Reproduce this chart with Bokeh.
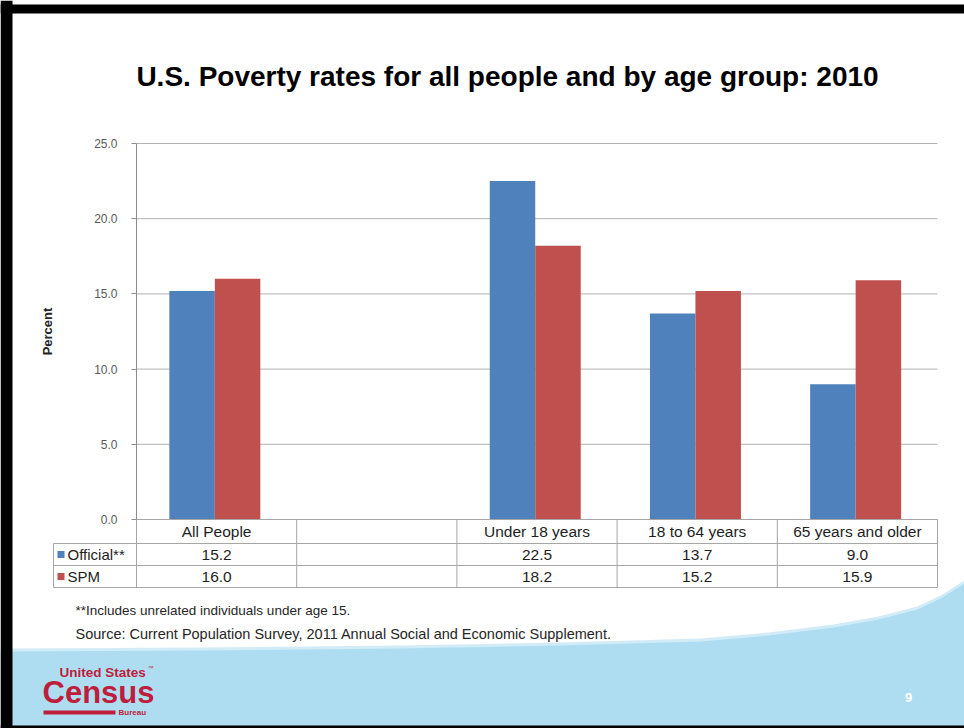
import numpy as np
from bokeh.plotting import figure
from bokeh.models import (ColumnDataSource, Range1d, FixedTicker, LinearAxis,
                          NumeralTickFormatter, Label)
from bokeh.transform import dodge
from bokeh.embed import file_html
from bokeh.resources import INLINE

# ---------------- data ----------------
categories = ["All People", "", "Under 18 years", "18 to 64 years", "65 years and older"]
official = [15.2, None, 22.5, 13.7, 9.0]
spm = [16.0, None, 18.2, 15.2, 15.9]
series_names = ["Official**", "SPM"]
y_ticks = [0, 5, 10, 15, 20, 25]
title_text = "U.S. Poverty rates for all people and by age group: 2010"
y_label = "Percent"
footnotes = ["**Includes unrelated individuals under age 15.",
             "Source: Current  Population Survey, 2011 Annual Social and Economic Supplement."]
page_number = "9"

# ---------------- layout constants (page px) ----------------
W, H = 964, 728
PL, PR, PT, PB = 136, 937, 143, 519          # plot area edges
BLUE, RED = "#4F81BD", "#C0504D"
GRID = "#B3B3B3"
TABLE = "#A6A6A6"
TXT = "#1E1E1E"
FONT = "Liberation Sans"
NCAT = len(categories)
YMAX = y_ticks[-1]


def dx(px):
    return (px - PL) / (PR - PL) * NCAT


def dy(py):
    return (PB - py) / (PB - PT) * YMAX


def to_float(vals):
    return np.array([np.nan if v is None else v for v in vals], dtype=float)


p = figure(width=W, height=H, x_range=Range1d(dx(0), dx(W)), y_range=Range1d(dy(H), dy(0)),
           x_axis_type=None, y_axis_type=None, output_backend="svg", toolbar_location=None,
           min_border=0)
p.outline_line_color = None
p.background_fill_color = "white"
p.border_fill_color = "white"
p.grid.visible = False

# ---------------- background decorations ----------------
curve = [(0, 651), (200, 650), (400, 648), (560, 645), (700, 641), (768, 635),
         (833, 627), (878, 619), (917, 609), (942, 597), (964, 583)]
glow = [(x, y - 3) for x, y in curve]
for pts, col in [(glow, "#D2ECF7"), (curve, "#AEDDF1")]:
    p.patch(x=[dx(x) for x, _ in pts] + [dx(W), dx(0)],
            y=[dy(y) for _, y in pts] + [dy(H), dy(H)],
            fill_color=col, line_color=None)
# black slide frame
p.quad(left=[dx(0), dx(0), dx(0)], right=[dx(W), dx(12), dx(W)],
       top=[dy(4), dy(0), dy(725)], bottom=[dy(13), dy(H), dy(H)],
       fill_color="black", line_color=None)

# ---------------- grid ----------------
p.segment(x0=0, x1=NCAT, y0=y_ticks, y1=y_ticks, line_color=GRID, line_width=1)

# ---------------- bars ----------------
src = ColumnDataSource(dict(x=np.arange(NCAT) + 0.5, official=to_float(official), spm=to_float(spm)))
p.vbar(x=dodge("x", -0.153), top="official", width=0.284, source=src,
       fill_color=BLUE, line_color=None)
p.vbar(x=dodge("x", 0.131), top="spm", width=0.284, source=src,
       fill_color=RED, line_color=None)

# ---------------- y axis ----------------
ya = LinearAxis(fixed_location=0, bounds=(0, YMAX), ticker=FixedTicker(ticks=y_ticks),
                formatter=NumeralTickFormatter(format="0.0"))
ya.axis_line_color = "#8C8C8C"
ya.major_tick_line_color = "#8C8C8C"
ya.major_tick_out = 5
ya.major_tick_in = 0
ya.minor_tick_out = 0
ya.minor_tick_in = 0
ya.major_label_standoff = 14
ya.major_label_text_font = FONT
ya.major_label_text_font_size = "12px"
ya.major_label_text_color = "#595959"
ya.axis_label = y_label
ya.axis_label_text_font = FONT
ya.axis_label_text_font_style = "bold"
ya.axis_label_text_font_size = "13px"
ya.axis_label_text_color = "#262626"
ya.axis_label_standoff = 36
p.add_layout(ya, "left")

# ---------------- x axis = table header row ----------------
head_ticks = [i + 0.5 for i, c in enumerate(categories) if c]
xa = LinearAxis(fixed_location=0, bounds=(0, NCAT), ticker=FixedTicker(ticks=head_ticks),
                major_label_overrides={i + 0.5: c for i, c in enumerate(categories) if c})
xa.axis_line_color = TABLE
xa.major_tick_out = 0
xa.major_tick_in = 0
xa.minor_tick_out = 0
xa.minor_tick_in = 0
xa.major_label_standoff = 3
xa.major_label_text_font = FONT
xa.major_label_text_font_size = "15.5px"
xa.major_label_text_color = TXT
p.add_layout(xa, "below")

# ---------------- table ----------------
ROW_TOP = [PB, 543, 565, 587]
LEG_L = 53
p.segment(x0=list(range(NCAT + 1)), x1=list(range(NCAT + 1)),
          y0=[dy(PB)] * (NCAT + 1), y1=[dy(ROW_TOP[-1])] * (NCAT + 1), line_color=TABLE)
p.segment(x0=[dx(LEG_L)], x1=[dx(LEG_L)], y0=[dy(ROW_TOP[1])], y1=[dy(ROW_TOP[-1])], line_color=TABLE)
p.segment(x0=[dx(LEG_L)] * 3, x1=[NCAT] * 3, y0=[dy(r) for r in ROW_TOP[1:]],
          y1=[dy(r) for r in ROW_TOP[1:]], line_color=TABLE)

for r, (name, vals, col) in enumerate([(series_names[0], official, BLUE), (series_names[1], spm, RED)]):
    yc = (ROW_TOP[r + 1] + ROW_TOP[r + 2]) / 2
    p.quad(left=[dx(LEG_L + 4)], right=[dx(LEG_L + 11)], top=[dy(yc - 3.5)], bottom=[dy(yc + 3.5)],
           fill_color=col, line_color=None)
    p.add_layout(Label(x=dx(LEG_L + 14), y=dy(yc), text=name, text_align="left",
                       text_baseline="middle", text_font=FONT, text_font_size="15px", text_color=TXT))
    for i, v in enumerate(vals):
        if v is None:
            continue
        p.add_layout(Label(x=i + 0.5, y=dy(yc), text=f"{v:.1f}", text_align="center",
                           text_baseline="middle", text_font=FONT, text_font_size="15.5px",
                           text_color=TXT))

# ---------------- title ----------------
p.add_layout(Label(x=dx(507), y=dy(76), text=title_text, text_align="center", text_baseline="middle",
                   text_font=FONT, text_font_style="bold", text_font_size="28px", text_color="black"))

# ---------------- footnotes ----------------
for k, (t, fs) in enumerate(zip(footnotes, ["13.5px", "14.5px"])):
    p.add_layout(Label(x=dx(75), y=dy(610 + 23 * k), text=t, text_align="left", text_baseline="middle",
                       text_font=FONT, text_font_size=fs, text_color="#262626"))

# ---------------- logo & page number ----------------
LOGO = "#BE1E3C"
p.add_layout(Label(x=dx(59), y=dy(672), text="United States", text_align="left", text_baseline="middle",
                   text_font=FONT, text_font_style="bold", text_font_size="13.5px", text_color=LOGO))
p.add_layout(Label(x=dx(147), y=dy(667), text="™", text_align="left", text_baseline="middle",
                   text_font=FONT, text_font_size="6px", text_color=LOGO))
p.add_layout(Label(x=dx(42), y=dy(692), text="Census", text_align="left", text_baseline="middle",
                   text_font=FONT, text_font_style="bold", text_font_size="31px", text_color=LOGO))
p.quad(left=[dx(43)], right=[dx(115)], top=[dy(710)], bottom=[dy(714)], fill_color=LOGO, line_color=None)
p.add_layout(Label(x=dx(118), y=dy(712), text="Bureau", text_align="left", text_baseline="middle",
                   text_font=FONT, text_font_style="bold", text_font_size="8px", text_color=LOGO))
p.add_layout(Label(x=dx(908), y=dy(697), text=page_number, text_align="center", text_baseline="middle",
                   text_font=FONT, text_font_style="bold", text_font_size="13px", text_color="white"))

open("out.html", "w").write(file_html(p, INLINE))
